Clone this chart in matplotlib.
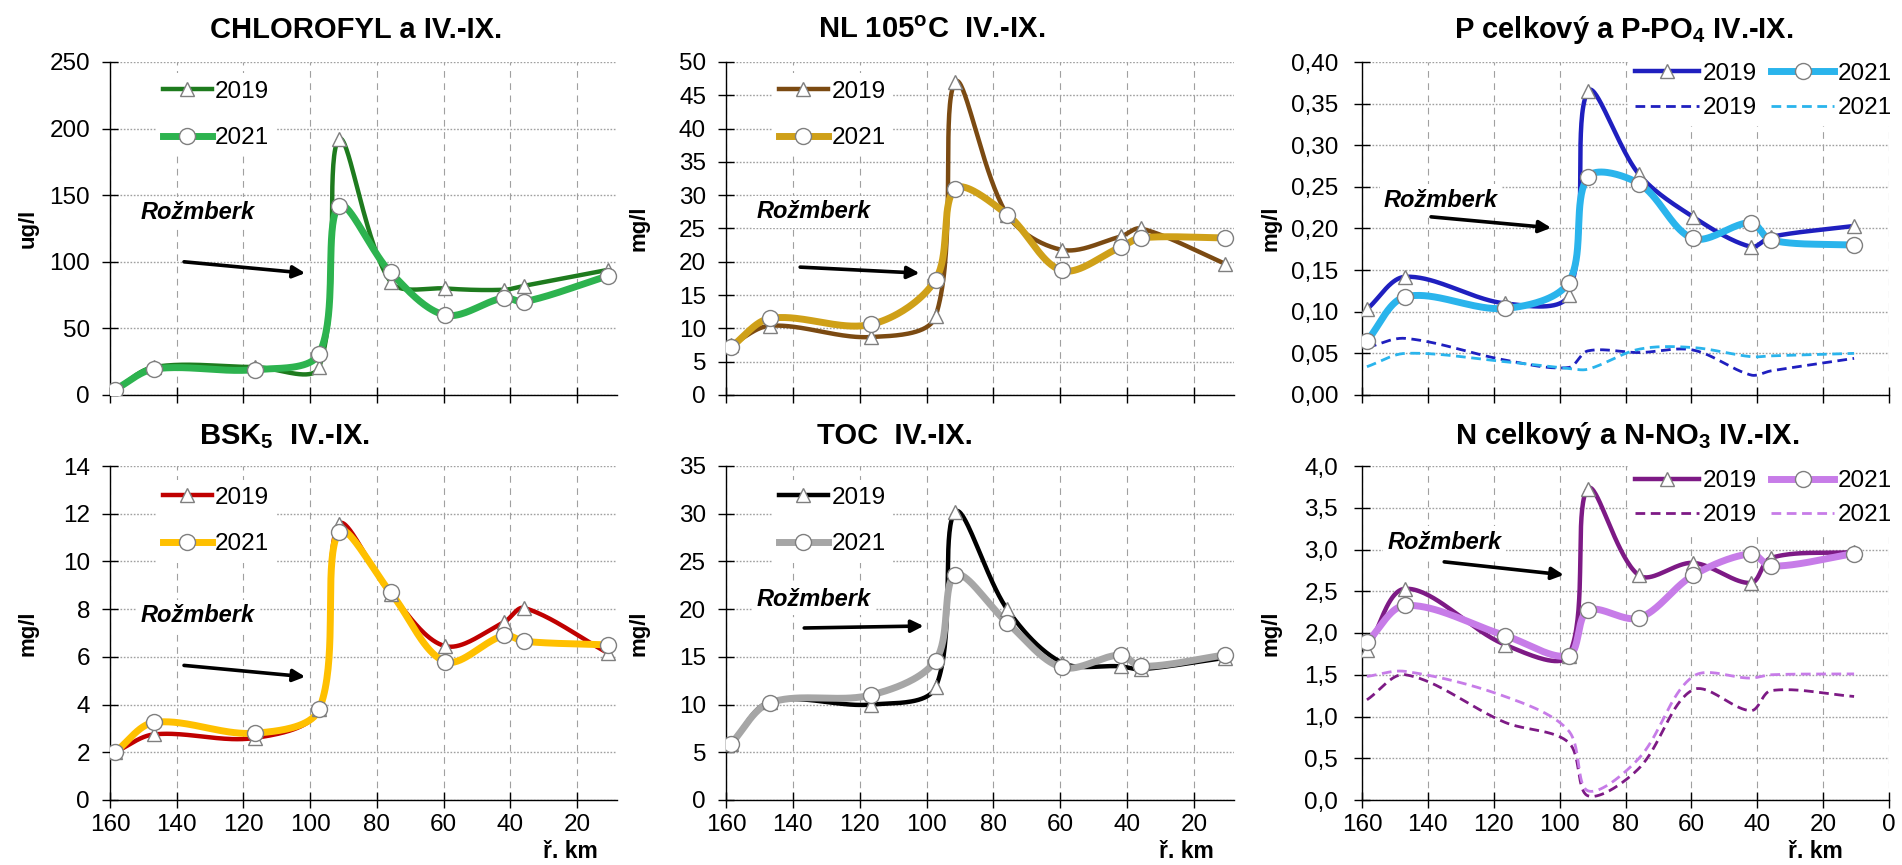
import numpy as np
import matplotlib
matplotlib.use("Agg")
import matplotlib.pyplot as plt
from matplotlib.lines import Line2D
from matplotlib.ticker import FixedLocator, FuncFormatter

plt.rcParams['font.family'] = ['Liberation Sans', 'DejaVu Sans']
plt.rcParams['mathtext.fontset'] = 'custom'
plt.rcParams['mathtext.rm'] = 'Liberation Sans'
plt.rcParams['mathtext.bf'] = 'Liberation Sans:bold'
plt.rcParams['mathtext.it'] = 'Liberation Sans:italic'

# ---------------- data ----------------
km = [158.5, 146.8, 116.6, 97.3, 91.4, 75.9, 59.5, 41.9, 35.8, 10.6]

chl_2019 = [4, 21, 21, 21, 192, 85, 80, 79, 82, 94]
chl_2021 = [4, 19.5, 19, 31, 142, 92, 60, 73, 70, 89.5]

nl_2019 = [7.5, 10.4, 8.7, 11.8, 47, 27.1, 21.8, 23.8, 25.0, 19.7]
nl_2021 = [7.2, 11.5, 10.6, 17.3, 31, 27.1, 18.7, 22.2, 23.6, 23.6]

p_2019 = [0.103, 0.142, 0.110, 0.120, 0.365, 0.265, 0.214, 0.178, 0.190, 0.203]
p_2021 = [0.065, 0.118, 0.104, 0.135, 0.262, 0.254, 0.188, 0.207, 0.186, 0.180]
po4_2019 = [0.057, 0.068, 0.042, 0.033, 0.053, 0.051, 0.054, 0.024, 0.029, 0.044]
po4_2021 = [0.034, 0.050, 0.040, 0.032, 0.031, 0.055, 0.057, 0.046, 0.047, 0.050]

bsk_2019 = [2.0, 2.75, 2.6, 3.8, 11.55, 8.65, 6.45, 7.45, 8.05, 6.15]
bsk_2021 = [2.0, 3.25, 2.8, 3.8, 11.25, 8.7, 5.8, 6.9, 6.65, 6.5]

toc_2019 = [5.9, 10.3, 10.0, 11.8, 30.2, 20.0, 14.4, 14.0, 13.7, 14.9]
toc_2021 = [5.9, 10.2, 11.0, 14.6, 23.6, 18.6, 13.9, 15.2, 14.0, 15.2]

n_2019 = [1.80, 2.53, 1.86, 1.73, 3.73, 2.69, 2.84, 2.60, 2.90, 2.97]
n_2021 = [1.89, 2.33, 1.97, 1.73, 2.27, 2.18, 2.69, 2.95, 2.80, 2.95]
no3_2019 = [1.20, 1.50, 0.93, 0.69, 0.05, 0.38, 1.32, 1.07, 1.31, 1.24]
no3_2021 = [1.48, 1.54, 1.24, 0.83, 0.11, 0.50, 1.48, 1.46, 1.50, 1.51]

years = ["2019", "2021"]
titles = [r"CHLOROFYL a IV.-IX.", r"NL 105$^{\mathbf{o}}$C  IV.-IX.",
          r"P celkový a P-PO$_{\mathbf{4}}$ IV.-IX.",
          r"BSK$_{\mathbf{5}}$  IV.-IX.", r"TOC  IV.-IX.",
          r"N celkový a N-NO$_{\mathbf{3}}$ IV.-IX."]
units = ["ug/l", "mg/l", "mg/l", "mg/l", "mg/l", "mg/l"]
xlabel = "ř. km"
annot = "Rožmberk"

# ---------------- figure ----------------
W, H = 1902, 865
fig = plt.figure(figsize=(W / 100, H / 100), dpi=100)

def axes_px(left, top, right, bottom):
    return fig.add_axes([left / W, 1 - bottom / H, (right - left) / W, (bottom - top) / H])

cols = [(110, 617, 8), (726, 1234, 8), (1362, 1889, 0)]
rows = [(62, 395), (466, 800)]

def smooth(ax, x, y, n=40):
    x0, x1 = ax.get_xlim(); y0, y1 = ax.get_ylim()
    sx = ax.bbox.width / (x1 - x0); sy = ax.bbox.height / (y1 - y0)
    P = np.column_stack([(np.asarray(x, float) - x0) * sx, (np.asarray(y, float) - y0) * sy])
    m = len(P)
    pts = [P[0]]
    t = np.linspace(0, 1, n)[1:][:, None]
    for i in range(m - 1):
        p0 = P[i - 1] if i > 0 else P[i]
        p1 = P[i]; p2 = P[i + 1]
        p3 = P[i + 2] if i + 2 < m else P[i + 1]
        d01 = np.linalg.norm(p1 - p0); d12 = np.linalg.norm(p2 - p1); d23 = np.linalg.norm(p3 - p2)
        f1 = d12 / (d01 + d12) if d01 + d12 > 0 else 0.5
        f2 = d12 / (d12 + d23) if d12 + d23 > 0 else 0.5
        c1 = p1 + (p2 - p0) * f1 / 3
        c2 = p2 - (p3 - p1) * f2 / 3
        b = ((1 - t) ** 3) * p1 + 3 * ((1 - t) ** 2) * t * c1 + 3 * (1 - t) * t ** 2 * c2 + t ** 3 * p2
        pts.extend(list(b))
    pts = np.array(pts)
    return pts[:, 0] / sx + x0, pts[:, 1] / sy + y0

MEC = '#7F7F7F'

def setup(ax, xmin, ymax, ystep, fmt, bottom_labels, ypad):
    ax.set_xlim(160, xmin)
    ax.set_ylim(0, ymax)
    xt = list(range(160, xmin - 1, -20)) if xmin == 0 else list(range(160, 19, -20))
    ax.xaxis.set_major_locator(FixedLocator(xt))
    yt = np.arange(0, ymax + ystep / 2, ystep)
    ax.yaxis.set_major_locator(FixedLocator(yt))
    ax.yaxis.set_major_formatter(FuncFormatter(fmt))
    ax.xaxis.set_major_formatter(FuncFormatter(lambda v, p: f"{v:.0f}"))
    for s in ['top', 'right']:
        ax.spines[s].set_visible(False)
    for s in ['left', 'bottom']:
        ax.spines[s].set_color('black'); ax.spines[s].set_linewidth(1.0)
    ax.tick_params(direction='inout', length=11.5, width=1.0, labelsize=17.5, colors='black')
    ax.tick_params(axis='y', pad=ypad)
    ax.tick_params(axis='x', pad=4, labelbottom=bottom_labels)
    ax.grid(axis='x', linestyle=(0, (6, 5)), color='#A0A0A0', linewidth=0.8)
    ax.grid(axis='y', linestyle=(0, (1.2, 1.2)), color='#A0A0A0', linewidth=1.0)
    ax.set_axisbelow(True)

def series(ax, y, color, lw, marker, ms, z):
    xs, ys = smooth(ax, km, y)
    ax.plot(xs, ys, color=color, lw=lw, zorder=z, solid_capstyle='round')
    ax.plot(km, y, linestyle='none', marker=marker, ms=ms, mfc='white', mec=MEC, mew=1.0, zorder=z + 0.5)

def dashed(ax, y, color, z):
    xs, ys = smooth(ax, km, y)
    ax.plot(xs, ys, color=color, lw=2.0, ls=(0, (3.5, 2)), zorder=z)

def rozmberk(ax, tx, ty, start, end):
    ax.text(tx, ty, annot, transform=ax.transAxes, ha='center', va='center', fontsize=17,
            fontweight='bold', fontstyle='italic', zorder=4,
            bbox=dict(fc='white', ec='none', pad=3))
    ax.annotate('', xy=end, xytext=start, xycoords='axes fraction', textcoords='axes fraction',
                arrowprops=dict(arrowstyle='-|>', color='black', lw=2.6, mutation_scale=18,
                                shrinkA=0, shrinkB=0), zorder=4)

fint = lambda v, p: f"{v:.0f}"
f2 = lambda v, p: f"{v:.2f}".replace('.', ',')
f1 = lambda v, p: f"{v:.1f}".replace('.', ',')

specs = [
    (0, 0, chl_2019, chl_2021, None, None, ('#1E7B1E', '#2DB34F'), 250, 50, fint),
    (0, 1, nl_2019, nl_2021, None, None, ('#7B4A12', '#CFA018'), 50, 5, fint),
    (0, 2, p_2019, p_2021, po4_2019, po4_2021, ('#1F1FBF', '#2AB4EC'), 0.40, 0.05, f2),
    (1, 0, bsk_2019, bsk_2021, None, None, ('#C00000', '#FFC000'), 14, 2, fint),
    (1, 1, toc_2019, toc_2021, None, None, ('#000000', '#A6A6A6'), 35, 5, fint),
    (1, 2, n_2019, n_2021, no3_2019, no3_2021, ('#7D1A85', '#C77CE8'), 4.0, 0.5, f1),
]

annots = {
    (0, 0): ((0.172, 0.547), (0.146, 0.40), (0.385, 0.366)),
    (0, 1): ((0.172, 0.55), (0.146, 0.384), (0.381, 0.366)),
    (0, 2): ((0.15, 0.585), (0.131, 0.535), (0.359, 0.502)),
    (1, 0): ((0.172, 0.551), (0.146, 0.403), (0.385, 0.369)),
    (1, 1): ((0.172, 0.60), (0.154, 0.515), (0.389, 0.521)),
    (1, 2): ((0.156, 0.772), (0.156, 0.713), (0.383, 0.674)),
}

title_pos = {(0, 0): (356, 38), (0, 1): (932, 38), (0, 2): (1624, 38),
             (1, 0): (285, 444), (1, 1): (895, 444), (1, 2): (1627, 444)}
ylab_x = [28, 639, 1271]
xlab_x = [570, 1186, 1815]

for k, (r, c, y19, y21, d19, d21, colors, ymax, ystep, fmt) in enumerate(specs):
    left, right, xmin = cols[c]
    top, bottom = rows[r]
    ax = axes_px(left, top, right, bottom)
    setup(ax, xmin, ymax, ystep, fmt, r == 1, 8.6 if c < 2 else 11.5)
    series(ax, y19, colors[0], 3.2, '^', 10.5, 3)
    series(ax, y21, colors[1], 5.0, 'o', 11.5, 3.2)
    if d19 is not None:
        dashed(ax, d19, colors[0], 2.8)
        dashed(ax, d21, colors[1], 2.9)
    (tx, ty), st, en = annots[(r, c)]
    rozmberk(ax, tx, ty, st, en)

    h19 = Line2D([], [], color=colors[0], lw=3.2, marker='^', ms=10.5, mfc='white', mec=MEC)
    h21 = Line2D([], [], color=colors[1], lw=5.0, marker='o', ms=11.5, mfc='white', mec=MEC)
    if d19 is None:
        cy = 0.841 if r == 0 else 0.835
        leg = ax.legend([h19, h21], years, loc='center left', bbox_to_anchor=(0.09, cy),
                        fontsize=17.5, frameon=True, framealpha=1, facecolor='white',
                        edgecolor='none', borderaxespad=0, borderpad=0.3, handlelength=2.0,
                        handletextpad=0.15, labelspacing=1.0, fancybox=False)
    else:
        hd19 = Line2D([], [], color=colors[0], lw=2.0, ls=(0, (3.5, 2)))
        hd21 = Line2D([], [], color=colors[1], lw=2.0, ls=(0, (3.5, 2)))
        cy = 0.913 if r == 0 else 0.903
        leg = ax.legend([h19, hd19, h21, hd21], [years[0], years[0], years[1], years[1]],
                        ncol=2, loc='center left',
                        bbox_to_anchor=(0.505, cy), fontsize=17.5, frameon=True, framealpha=1,
                        facecolor='white', edgecolor='none', borderaxespad=0, borderpad=0.3,
                        handlelength=2.6, handletextpad=0.15, labelspacing=0.5,
                        columnspacing=0.6, fancybox=False)
    leg.set_zorder(5)

    fig.text(title_pos[(r, c)][0] / W, 1 - title_pos[(r, c)][1] / H, titles[k],
             ha='center', va='baseline', fontsize=21, fontweight='bold')
    fig.text(ylab_x[c] / W, 1 - ((top + bottom) / 2) / H, units[k], rotation=90,
             ha='center', va='center', fontsize=16, fontweight='bold')
    if r == 1:
        fig.text(xlab_x[c] / W, 1 - 851 / H, xlabel, ha='center', va='center',
                 fontsize=16.5, fontweight='bold')

fig.savefig("out.png", dpi=100, facecolor='white')
